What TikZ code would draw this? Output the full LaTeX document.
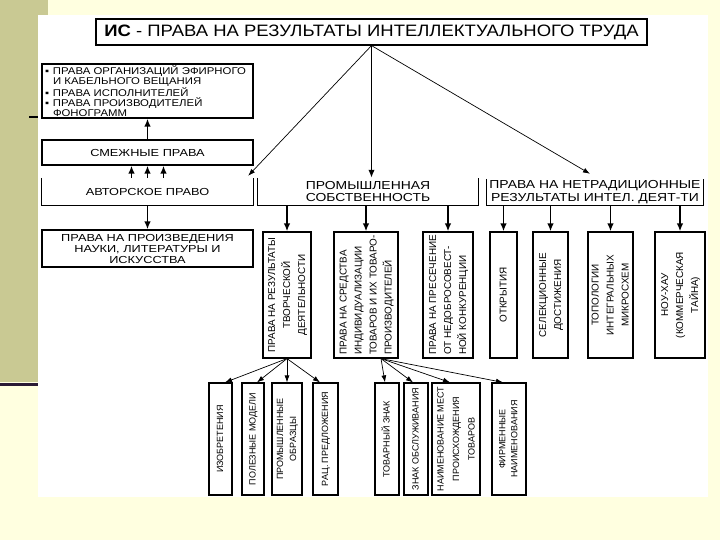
\documentclass[tikz,border=0pt]{standalone}
\usepackage{fontspec}
\usepackage{graphicx}
\setmainfont{Liberation Sans}
\newfontfamily\fT{Liberation Sans}[FakeStretch=1.12]
\newfontfamily\fM{Liberation Sans}[FakeStretch=1.2]
\newfontfamily\fS{Liberation Sans}[FakeStretch=1.25]
\newfontfamily\fB{Liberation Sans}[FakeStretch=1.16]
\newfontfamily\fV{Liberation Sans}
\usetikzlibrary{arrows.meta}
\definecolor{bgY}{RGB}{255,255,224}
\definecolor{olv}{RGB}{201,201,147}
\definecolor{darkl}{RGB}{42,26,53}
\newcommand\vt[2]{\rotatebox{90}{\begin{tabular}{@{}#1@{}}#2\end{tabular}}}
\begin{document}
\begin{tikzpicture}[x=1pt,y=-1pt,
  box/.style={draw, line width=1.2pt, inner sep=0pt},
  nobox/.style={inner sep=0pt},
  ubox/.style={line width=1.2pt},
  thk/.style={line width=1.8pt, -{Latex[length=8pt,width=6.5pt]}},
  thn/.style={line width=0.7pt, -{Latex[length=7pt,width=5pt]}},
  vfont/.style={font=\fV\fontsize{9.9}{15}\selectfont},
  bfont/.style={font=\fV\fontsize{9}{13}\selectfont},
  vbox/.style={box, minimum height=126pt, vfont},
  bbox/.style={box, minimum height=112pt, bfont},
]
\useasboundingbox (0,0) rectangle (720,540);
\fill[bgY] (0,0) rectangle (720,540);
\fill[olv] (0,0) rectangle (48,382);
\fill[white] (38,15) rectangle (708,497);
\draw[darkl, line width=3pt] (0,384) -- (38,384);
\draw[line width=1.5pt] (29,117) -- (38,117);

% top
\node[box, minimum width=551pt, minimum height=26pt, font=\fT\fontsize{16.5}{18}\selectfont] (title) at (371.5,32) {\textbf{ИС} - ПРАВА НА РЕЗУЛЬТАТЫ ИНТЕЛЛЕКТУАЛЬНОГО ТРУДА};

\node[box, minimum width=211pt, minimum height=54pt, text width=205pt, align=left, font=\fB\fontsize{9.8}{10.3}\selectfont] (bul) at (147.5,91)
 {\makebox[8pt][l]{▪}ПРАВА ОРГАНИЗАЦИЙ ЭФИРНОГО\\
  \hspace*{8pt}И КАБЕЛЬНОГО ВЕЩАНИЯ\\
  \makebox[8pt][l]{▪}ПРАВА ИСПОЛНИТЕЛЕЙ\\
  \makebox[8pt][l]{▪}ПРАВА ПРОИЗВОДИТЕЛЕЙ\\
  \hspace*{8pt}ФОНОГРАММ};

\node[box, minimum width=211pt, minimum height=25pt, font=\fS\fontsize{10.2}{11}\selectfont] (smezh) at (147.5,152.5) {СМЕЖНЫЕ ПРАВА};

\node[nobox, minimum width=211pt, minimum height=27pt, font=\fS\fontsize{10.2}{11}\selectfont] (avtor) at (147.5,191.5) {АВТОРСКОЕ ПРАВО};
\node[nobox, minimum width=220pt, minimum height=27pt, align=center, font=\fM\fontsize{11.6}{12.5}\selectfont] (prom) at (368,191.5) {ПРОМЫШЛЕННАЯ\\СОБСТВЕННОСТЬ};
\node[nobox, minimum width=216pt, minimum height=26pt, align=center, font=\fM\fontsize{11.6}{12.5}\selectfont] (netrad) at (595,192) {ПРАВА НА НЕТРАДИЦИОННЫЕ\\РЕЗУЛЬТАТЫ ИНТЕЛ. ДЕЯТ-ТИ};
\draw[ubox] (avtor.north west) -- (avtor.south west) -- (avtor.south east) -- (avtor.north east);
\draw[ubox] (prom.north west) -- (prom.south west) -- (prom.south east) -- (prom.north east);
\draw[ubox] (netrad.north west) -- (netrad.south west) -- (netrad.south east) -- (netrad.north east);

\node[box, minimum width=211pt, minimum height=37pt, align=center, font=\fS\fontsize{10.2}{11}\selectfont] (proizv) at (147.5,248.5) {ПРАВА НА ПРОИЗВЕДЕНИЯ\\НАУКИ, ЛИТЕРАТУРЫ И\\ИСКУССТВА};

% vertical boxes
\node[vbox, minimum width=48pt] (v1) at (287,295) {\vt{c}{ПРАВА НА РЕЗУЛЬТАТЫ\\ТВОРЧЕСКОЙ\\ДЕЯТЕЛЬНОСТИ}};
\node[vbox, minimum width=64pt] (v2) at (366,295) {\vt{l}{ПРАВА НА СРЕДСТВА\\ИНДИВИДУАЛИЗАЦИИ\\ТОВАРОВ И ИХ ТОВАРО-\\ПРОИЗВОДИТЕЛЕЙ}};
\node[vbox, minimum width=50pt] (v3) at (448,295) {\vt{l}{ПРАВА НА ПРЕСЕЧЕНИЕ\\ОТ НЕДОБРОСОВЕСТ-\\НОЙ КОНКУРЕНЦИИ}};
\node[vbox, minimum width=27pt] (v4) at (503.5,295) {\vt{c}{ОТКРЫТИЯ}};
\node[vbox, minimum width=35pt] (v5) at (550.5,295) {\vt{c}{СЕЛЕКЦИОННЫЕ\\ДОСТИЖЕНИЯ}};
\node[vbox, minimum width=45pt] (v6) at (610.5,295) {\vt{c}{ТОПОЛОГИИ\\ИНТЕГРАЛЬНЫХ\\МИКРОСХЕМ}};
\node[vbox, minimum width=50pt] (v7) at (680,295) {\vt{c}{НОУ-ХАУ\\(КОММЕРЧЕСКАЯ\\ТАЙНА)}};

% bottom boxes
\node[bbox, minimum width=23pt] (b1) at (220.5,439) {\vt{c}{ИЗОБРЕТЕНИЯ}};
\node[bbox, minimum width=22pt] (b2) at (253,439) {\vt{c}{ПОЛЕЗНЫЕ МОДЕЛИ}};
\node[bbox, minimum width=30pt] (b3) at (287,439) {\vt{c}{ПРОМЫШЛЕННЫЕ\\ОБРАЗЦЫ}};
\node[bbox, minimum width=25pt] (b4) at (325.5,439) {\vt{c}{РАЦ. ПРЕДЛОЖЕНИЯ}};
\node[bbox, minimum width=24pt] (b5) at (387,439) {\vt{c}{ТОВАРНЫЙ ЗНАК}};
\node[bbox, minimum width=24pt] (b6) at (416,439) {\vt{c}{ЗНАК ОБСЛУЖИВАНИЯ}};
\node[bbox, minimum width=48pt, font=\fV\fontsize{9}{15.5}\selectfont] (b7) at (456,439) {\vt{c}{НАИМЕНОВАНИЕ МЕСТ\\ПРОИСХОЖДЕНИЯ\\ТОВАРОВ}};
\node[bbox, minimum width=34pt, font=\fV\fontsize{9}{12}\selectfont] (b8) at (509,439) {\vt{c}{ФИРМЕННЫЕ\\НАИМЕНОВАНИЯ}};

% connectors
\draw[thk] (smezh.north) -- (bul.south);
\foreach \d in {-16,0,16}
  \draw[thk] ([xshift=\d pt]avtor.north) -- ([xshift=\d pt]smezh.south);
\draw[thk] (title.south) -- (title.south |- prom.north);
\draw[thn] (title.south) -- ([xshift=-5pt,yshift=2pt]avtor.north east);
\draw[thn] (title.south) -- ([xshift=-5pt,yshift=5pt]netrad.north);
\draw[thk] (avtor.south) -- (proizv.north);
\foreach \v in {v1,v2,v3}
  \draw[thk] (prom.south -| \v.north) -- (\v.north);
\foreach \v in {v4,v5,v6,v7}
  \draw[thk] (netrad.south -| \v.north) -- (\v.north);
\draw[thn] (v1.south) -- ([xshift=4.5pt]b1.north);
\draw[thn] (v1.south) -- ([xshift=4pt]b2.north);
\draw[thn] (v1.south) -- (b3.north);
\draw[thn] (v1.south) -- ([xshift=-5.5pt]b4.north);
\draw[thn] ([xshift=15pt]v2.south) -- ([xshift=-2pt]b5.north);
\draw[thn] ([xshift=15pt]v2.south) -- ([xshift=-3pt]b6.north);
\draw[thn] ([xshift=15pt]v2.south) -- ([xshift=-6pt]b7.north);
\draw[thn] ([xshift=15pt]v2.south) -- ([xshift=-6pt]b8.north);
\end{tikzpicture}
\end{document}
